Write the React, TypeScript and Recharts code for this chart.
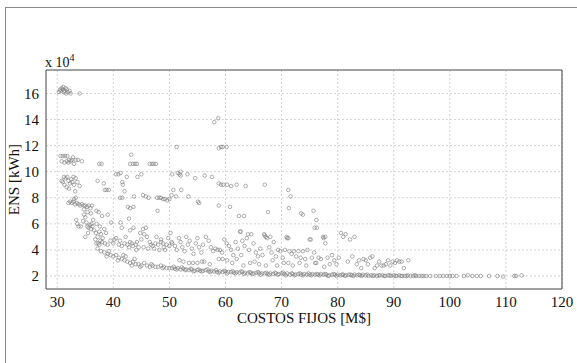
import { ScatterChart, Scatter, XAxis, YAxis, CartesianGrid, Label } from 'recharts'

// ENS [x 10^4 kWh] vs COSTOS FIJOS [M$]
const topCluster: [number, number][] = [
  [30.3, 16.1], [30.5, 16.3], [30.6, 16.2], [30.8, 16.4], [31.0, 16.3], [31.1, 16.5], [31.2, 16.1],
  [31.3, 16.2], [31.5, 16.4], [31.6, 16.0], [31.7, 16.3], [31.9, 16.1], [32.2, 16.2], [32.4, 16.0], [34.0, 16.0],
]

const upperLeft: [number, number][] = [
  [30.6, 11.2], [31.0, 11.2], [31.4, 11.2], [31.8, 11.2], [30.8, 10.8], [31.3, 10.7], [31.7, 10.8], [32.0, 10.7],
  [32.1, 10.9], [32.4, 10.8], [32.6, 10.9], [32.8, 11.1], [33.0, 10.6], [33.3, 10.9], [33.7, 10.9], [34.4, 10.8],
  [30.8, 9.3], [31.0, 9.2], [31.2, 9.6], [31.3, 9.0], [31.5, 9.5], [31.7, 8.8], [31.8, 9.6], [32.0, 9.3],
  [32.1, 8.7], [32.3, 9.1], [32.5, 9.4], [32.7, 9.2], [32.9, 9.6], [33.0, 9.0], [33.2, 8.5], [33.3, 9.5],
  [33.6, 9.2], [34.0, 8.9],
]

const kneeBand: [number, number][] = [
  [32.0, 7.6], [32.3, 7.7], [32.6, 7.6], [32.9, 7.7], [33.0, 7.9], [33.2, 7.5], [33.3, 8.0], [33.5, 7.6],
  [33.8, 7.5], [34.1, 7.4], [34.4, 7.5], [34.7, 7.4], [34.8, 7.1], [35.0, 7.4], [35.3, 7.3], [35.4, 6.9],
  [35.6, 7.4], [35.9, 7.2], [36.0, 6.8], [36.2, 7.4], [37.0, 7.0], [37.4, 6.9],
  [33.4, 6.3], [33.6, 6.0], [33.8, 5.8], [34.2, 5.8], [34.6, 6.2], [34.8, 6.7], [35.0, 6.5], [35.0, 5.0],
  [35.2, 6.1], [35.4, 5.8], [35.5, 5.3], [35.6, 5.7], [35.8, 5.9], [36.0, 5.6], [36.1, 6.0], [36.3, 5.8],
  [36.4, 6.3], [36.6, 5.5], [36.8, 4.8], [36.9, 5.3], [37.0, 6.0], [37.2, 5.0], [37.3, 4.5], [37.5, 5.4],
  [37.6, 5.8], [37.7, 4.7], [37.8, 5.2], [38.0, 6.6], [38.1, 4.9], [38.4, 5.6], [38.7, 5.3], [39.0, 6.7],
]

const midBand: [number, number][] = [
  [37.0, 4.5], [37.5, 4.4], [38.0, 4.6], [38.5, 4.5], [39.0, 4.4], [39.5, 4.7], [39.6, 6.1], [40.0, 4.5],
  [40.2, 4.8], [40.5, 4.9], [41.0, 4.4], [41.2, 4.7], [41.3, 6.1], [41.5, 4.3], [41.5, 5.7], [42.0, 4.5],
  [42.2, 5.0], [42.5, 4.4], [42.8, 4.2], [43.0, 4.6], [43.0, 5.5], [43.3, 4.5], [43.5, 4.3], [43.6, 5.7],
  [44.0, 4.4], [44.1, 4.0], [44.2, 4.6], [44.5, 4.2], [44.8, 5.3], [45.0, 4.8], [45.3, 5.6], [45.4, 4.2],
  [45.5, 5.2], [45.8, 5.7], [46.0, 5.0], [46.2, 4.1], [46.5, 4.6], [46.7, 4.4], [47.0, 4.3], [47.3, 4.1],
  [47.5, 4.5], [47.7, 5.0], [48.0, 4.4], [48.2, 4.0], [48.5, 4.6], [48.5, 4.8], [48.9, 4.5], [49.0, 4.2],
  [49.2, 4.0], [49.5, 4.4], [49.8, 4.9], [50.0, 4.3], [50.4, 4.6],
]

const lowerCurve: [number, number][] = [
  [37.2, 4.1], [37.8, 3.9], [38.4, 3.8], [38.8, 3.5], [39.0, 3.7], [39.2, 3.9], [39.5, 3.6], [40.0, 3.5],
  [40.5, 3.6], [40.8, 3.2], [41.0, 3.4], [41.5, 3.3], [41.8, 3.6], [42.0, 3.2], [42.2, 3.5], [42.5, 3.1],
  [43.0, 3.0], [43.3, 2.8], [43.5, 3.1], [43.8, 3.3], [44.0, 2.9], [44.5, 2.9], [44.8, 2.7], [45.0, 2.8],
  [45.5, 3.0], [46.0, 2.8], [46.5, 2.7], [46.8, 2.9], [47.0, 2.8], [47.5, 2.7], [48.0, 2.7], [48.5, 2.8],
  [48.8, 2.6], [49.0, 2.7], [49.5, 2.6], [50.0, 2.6],
]

const bottomBand: [number, number][] = [
  [50.5, 2.6], [51, 2.55], [51.5, 2.6], [52, 2.5], [52.5, 2.55], [53, 2.5], [53.5, 2.45], [54, 2.5],
  [54.5, 2.4], [55, 2.45], [55.5, 2.4], [56, 2.4], [56.5, 2.45], [57, 2.35], [57.5, 2.4], [58, 2.35],
  [58.5, 2.3], [59, 2.35], [59.5, 2.3], [60, 2.35], [60.5, 2.3], [61, 2.3], [61.5, 2.25], [62, 2.3],
  [62.5, 2.25], [63, 2.3], [63.5, 2.25], [64, 2.2], [64.5, 2.25], [65, 2.2], [65.5, 2.25], [66, 2.2],
  [66.5, 2.2], [67, 2.2], [67.5, 2.15], [68, 2.2], [68.5, 2.15], [69, 2.2], [69.5, 2.15], [70, 2.2],
  [70.5, 2.15], [71, 2.2], [71.5, 2.1], [72, 2.15], [72.5, 2.1], [73, 2.15], [73.5, 2.1], [74, 2.15],
  [74.5, 2.1], [75, 2.1], [75.5, 2.15], [76, 2.1], [76.5, 2.1], [77, 2.15], [77.5, 2.1], [78, 2.1],
  [78.5, 2.05], [79, 2.1], [79.5, 2.1], [80, 2.1], [80.5, 2.05], [81, 2.1], [81.5, 2.05], [82, 2.1],
  [82.5, 2.05], [83, 2.1], [83.5, 2.05], [84, 2.05], [84.5, 2.1], [85, 2.05], [85.5, 2.0], [86, 2.05],
  [86.5, 2.05], [87, 2.0], [87.5, 2.05], [88, 2.05], [88.5, 2.0], [89, 2.05], [89.5, 2.0], [90, 2.05],
  [90.5, 2.0], [91, 2.05], [91.5, 2.0], [92, 2.0], [92.5, 2.05], [93, 2.0], [93.5, 2.0], [94, 2.0],
  [94.5, 2.0], [95, 2.0], [95.8, 2.0], [96.5, 2.0], [97.5, 2.0], [98.2, 2.0], [98.8, 2.0], [99.5, 2.0],
  [100, 2.0], [100.5, 2.0], [101.2, 2.0], [102.5, 2.0], [103.2, 2.05], [104, 2.0], [104.8, 2.0], [105.5, 2.0],
  [107, 2.0], [108.5, 2.0], [109.5, 1.95], [111.5, 2.0], [111.8, 2.0], [112.8, 2.05],
  [50.8, 2.7], [51.3, 2.5], [52.2, 2.65], [52.8, 2.45], [53.8, 2.55], [54.3, 2.35], [55.2, 2.5], [55.8, 2.35],
  [56.8, 2.5], [57.3, 2.3], [58.3, 2.45], [58.8, 2.25], [59.8, 2.4], [60.3, 2.2], [61.3, 2.35], [61.8, 2.2],
  [62.8, 2.35], [63.3, 2.15], [64.3, 2.3], [64.8, 2.15], [65.8, 2.3], [66.3, 2.1], [67.3, 2.25], [67.8, 2.1],
  [68.8, 2.25], [69.3, 2.1], [70.3, 2.25], [70.8, 2.05], [71.8, 2.2], [72.3, 2.05], [73.3, 2.2], [73.8, 2.05],
  [74.8, 2.2], [75.3, 2.05], [76.3, 2.15], [76.8, 2.05], [77.8, 2.15], [78.3, 2.0], [79.3, 2.15], [79.8, 2.0],
  [80.8, 2.1], [81.3, 2.0], [82.3, 2.1], [82.8, 2.0], [83.8, 2.1], [84.3, 2.0], [85.3, 2.1], [86.3, 2.0],
  [87.3, 2.05], [88.3, 2.0], [89.3, 2.05], [90.3, 2.0], [91.3, 2.0], [92.3, 2.0], [93.8, 2.05], [95.3, 2.0],
]

const scatterMid: [number, number][] = [
  [50.2, 5.3], [50.5, 4.5], [51, 4.3], [51.3, 4.0], [51.7, 4.9], [52, 4.6], [52.3, 4.2], [52.7, 3.9],
  [53.0, 5.0], [53.3, 4.4], [53.6, 4.7], [54.0, 4.1], [54.3, 3.7], [54.7, 4.5], [55.0, 4.9], [55.3, 4.2],
  [55.7, 3.8], [56.0, 4.4], [56.5, 5.0], [57.0, 4.7], [57.4, 4.2], [57.8, 3.9], [58.2, 4.1], [58.6, 4.0],
  [59.0, 4.0], [59.4, 3.8], [59.8, 4.8], [60.2, 4.5], [60.6, 4.3], [61, 4.0], [61.4, 3.6], [61.8, 4.6],
  [62.2, 4.1], [62.6, 5.4], [63, 4.7], [63.4, 4.3], [63.8, 4.9], [64.2, 4.0], [64.6, 5.2], [65, 4.5],
  [65.4, 3.8], [65.8, 3.5], [66.2, 4.1], [66.6, 3.6], [67, 5.1], [67.4, 4.9], [67.8, 4.2], [68.2, 3.8],
  [68.6, 4.6], [69, 3.5], [69.4, 4.0], [69.8, 3.9], [70.2, 3.4], [70.6, 4.0], [71, 4.9], [71.4, 3.9],
  [71.8, 3.7], [72.2, 3.9], [72.6, 3.5], [73, 3.9], [73.4, 3.4], [73.8, 3.9], [74.2, 3.3], [74.6, 4.0],
  [75, 4.8], [75.4, 3.4], [75.8, 3.8], [76.2, 3.0], [76.6, 3.4], [77, 3.3], [77.4, 5.0], [77.8, 5.0],
  [78.2, 3.4], [78.6, 2.9], [79, 3.6], [79.4, 3.2], [79.8, 2.9], [80.2, 3.4], [80.6, 5.3], [81, 5.0],
  [81.4, 5.2], [81.8, 3.1], [82.2, 4.8], [82.6, 3.5], [83, 5.0], [83.4, 2.9], [83.8, 3.2], [84.2, 2.6],
  [84.6, 3.3], [85, 3.2], [85.4, 2.9], [85.8, 3.4], [86.2, 3.5], [86.6, 2.6], [87, 2.8], [87.4, 3.1],
  [87.8, 2.8], [88.2, 2.8], [88.6, 2.9], [89, 3.2], [89.4, 2.8], [89.8, 3.1], [90.2, 3.0], [90.6, 3.2],
  [91, 3.1], [91.4, 3.1], [91.8, 2.6], [92.6, 3.2],
  [51.8, 3.2], [52.5, 3.1], [53.5, 3.0], [54.2, 3.0], [55, 3.0], [55.8, 3.1], [56.2, 3.1], [57.2, 2.9],
  [58.8, 3.3], [59.5, 3.3], [60.3, 3.2], [61.2, 3.0], [62, 3.3], [62.8, 3.6], [63.2, 2.8], [64.4, 3.0],
  [65.2, 3.1], [66, 2.9], [67.2, 2.8], [68.4, 3.2], [69.2, 2.8], [70.4, 3.0], [71.2, 3.0], [72, 2.8],
  [73.2, 3.0], [74.4, 2.8], [76, 3.0], [77.6, 2.7],
  [62.7, 5.4], [64, 5.2], [66.9, 5.2], [67.2, 5.0], [68, 5.0], [70.9, 5.0], [71.2, 4.9], [75.2, 4.8],
  [77.5, 4.9], [77.8, 4.5],
]

const scatterHigh: [number, number][] = [
  [37.2, 9.3], [38.3, 9.1], [38.5, 8.6], [38.8, 8.6], [39.2, 8.6], [37.5, 10.6], [37.9, 10.6], [40.5, 9.8],
  [40.9, 9.8], [41.3, 9.9], [41.6, 9.2], [41.7, 9.0], [42.0, 8.5], [41.2, 8.0], [41.6, 8.0], [42.4, 9.6],
  [42.6, 7.3], [42.8, 6.4], [43.0, 7.2], [43.2, 11.3], [43.0, 10.6], [43.5, 10.6], [43.9, 10.6], [44.2, 10.6],
  [44.3, 9.6], [43.7, 8.1], [43.6, 7.3], [45.0, 9.8], [45.3, 8.2], [45.8, 8.1], [46.3, 8.0], [46.5, 10.6],
  [46.9, 10.6], [47.2, 10.6], [47.6, 10.6], [47.8, 8.0], [48.2, 8.0], [48.5, 8.0], [48.9, 7.9], [49.2, 7.9],
  [49.6, 7.8], [50.0, 7.9], [47.9, 7.0], [50.4, 8.2], [50.5, 9.8], [50.7, 8.6], [51.2, 8.1], [51.3, 11.9],
  [51.5, 9.9], [51.8, 9.8], [52.0, 9.7], [52.1, 8.6], [52.0, 10.0], [53.2, 9.8], [53.4, 8.1], [54.6, 9.5],
  [55.1, 7.7], [55.3, 7.6], [56.3, 9.7], [57.6, 9.6], [58.0, 13.8], [58.7, 14.1], [58.8, 11.8], [59.2, 11.9],
  [59.5, 11.9], [60.2, 11.9], [58.8, 9.1], [59.2, 9.0], [59.6, 9.0], [60.3, 9.0], [61.0, 8.9], [62.0, 9.0],
  [63.6, 8.9], [58.8, 7.4], [60.8, 7.3], [62.4, 6.6], [63.3, 6.6], [67.0, 9.0], [67.6, 6.9], [71.2, 8.6],
  [71.3, 7.2], [71.6, 8.1], [73.5, 6.8], [73.8, 6.7], [75.7, 7.0], [76.2, 6.3], [75.9, 5.7], [76.3, 5.7],
]

const xTicks = [30, 40, 50, 60, 70, 80, 90, 100, 110, 120]
const yTicks = [2, 4, 6, 8, 10, 12, 14, 16]

const points = [...topCluster, ...upperLeft, ...kneeBand, ...midBand, ...lowerCurve, ...bottomBand, ...scatterMid, ...scatterHigh]
  .map(([x, y]) => ({ x, y }))

const FONT = '"Liberation Serif", "Times New Roman", serif'
const tickStyle = { fontSize: 15, fill: '#111', fontFamily: FONT }

function Ring(props: any) {
  const { cx, cy } = props
  return <circle cx={cx} cy={cy} r={1.8} fill="none" stroke="#7a7a7a" strokeWidth={0.6} />
}

export default function App() {
  return (
    <div style={{ position: 'absolute', left: 0, top: 0, width: 577, height: 363, background: '#fff', overflow: 'hidden' }}>
      <div style={{ position: 'absolute', left: 5, top: 7, width: 580, height: 370, border: '1px solid #8a8a8a' }} />
      <div style={{ position: 'absolute', left: 0, top: 0 }}>
        <ScatterChart width={577} height={363} margin={{ top: 70, right: 15, bottom: 44, left: 16 }}>
          <CartesianGrid stroke="#d4d4d4" strokeDasharray="2 2" verticalValues={xTicks} horizontalValues={yTicks} />
          <XAxis xAxisId={0} type="number" dataKey="x" domain={[28, 120]} ticks={xTicks} allowDataOverflow
            height={30} tickLine={false} axisLine={{ stroke: '#444' }} tick={tickStyle} tickMargin={1}>
            <Label value="COSTOS FIJOS [M$]" position="insideBottom" offset={-4}
              style={{ fontSize: 15, fill: '#111', fontFamily: FONT }} />
          </XAxis>
          <XAxis xAxisId="bm" type="number" domain={[28, 120]} ticks={xTicks} allowDataOverflow orientation="bottom"
            mirror tick={false} tickSize={4} tickLine={{ stroke: '#444' }} axisLine={false} />
          <XAxis xAxisId="top" type="number" domain={[28, 120]} ticks={xTicks} allowDataOverflow orientation="top"
            mirror tick={false} tickSize={4} tickLine={{ stroke: '#444' }} axisLine={{ stroke: '#444' }} />
          <YAxis yAxisId={0} type="number" dataKey="y" domain={[1, 17.8]} ticks={yTicks} allowDataOverflow
            width={30} tickLine={false} axisLine={{ stroke: '#444' }} tick={tickStyle} tickMargin={1}>
            <Label value="ENS [kWh]" angle={-90} position="insideLeft" offset={-2}
              style={{ fontSize: 15, fill: '#111', fontFamily: FONT, textAnchor: 'middle' }} />
          </YAxis>
          <YAxis yAxisId="lm" type="number" domain={[1, 17.8]} ticks={yTicks} allowDataOverflow orientation="left"
            mirror tick={false} tickSize={4} tickLine={{ stroke: '#444' }} axisLine={false} />
          <YAxis yAxisId="right" type="number" domain={[1, 17.8]} ticks={yTicks} allowDataOverflow orientation="right"
            mirror tick={false} tickSize={4} tickLine={{ stroke: '#444' }} axisLine={{ stroke: '#444' }} />
          <Scatter data={points} xAxisId={0} yAxisId={0} shape={Ring} isAnimationActive={false} />
          <text x={45} y={67} style={{ fontSize: 14, fill: '#111', fontFamily: FONT }}>
            x 10<tspan dy={-6} style={{ fontSize: 10 }}>4</tspan>
          </text>
        </ScatterChart>
      </div>
    </div>
  )
}
